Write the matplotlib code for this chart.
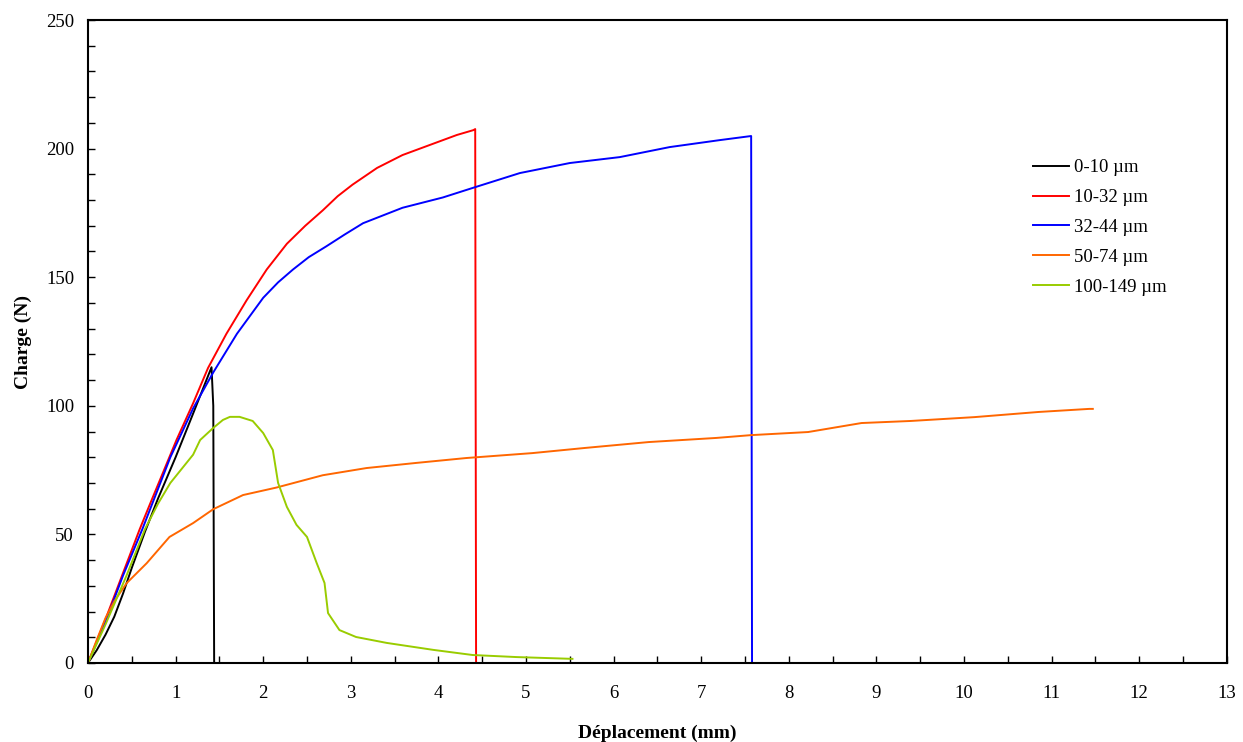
import numpy as np
import matplotlib.pyplot as plt
from matplotlib.ticker import MultipleLocator

plt.rcParams['font.family'] = ['Liberation Serif', 'DejaVu Serif']

# 0-10 um
x_0_10 = [0, 0.10, 0.20, 0.30, 0.40, 0.50, 0.65, 0.80, 1.00, 1.20, 1.41, 1.43, 1.44]
y_0_10 = [0, 5, 11, 18, 27, 37, 51, 64, 80, 97, 115, 100, 0]

# 10-32 um
x_10_32 = [0, 0.20, 0.40, 0.59, 0.71, 1.01, 1.20, 1.37, 1.58, 1.81, 2.04, 2.27,
           2.48, 2.68, 2.85, 3.02, 3.30, 3.59, 3.90, 4.21, 4.40, 4.42, 4.43]
y_10_32 = [0, 17, 35, 52, 62, 86.7, 101, 114.7, 128, 141, 153, 163,
           170, 176, 181.5, 186, 192.5, 197.5, 201.4, 205.3, 207.2, 207.6, 0]

# 32-44 um
x_32_44 = [0, 0.20, 0.40, 0.62, 0.94, 1.20, 1.43, 1.70, 2.00, 2.17, 2.34, 2.52,
           2.72, 2.93, 3.14, 3.59, 4.05, 4.39, 4.93, 5.50, 6.07, 6.64, 7.21,
           7.57, 7.58]
y_32_44 = [0, 16, 34, 52, 80, 99, 113, 128, 142, 148, 153, 157.8,
           162, 166.6, 171, 177, 181, 184.7, 190.5, 194.4, 196.7, 200.6, 203.3,
           204.9, 0]

# 50-74 um
x_50_74 = [0, 0.10, 0.20, 0.30, 0.44, 0.67, 0.93, 1.20, 1.43, 1.77, 2.15, 2.68,
           3.18, 3.75, 4.32, 5.07, 5.67, 6.40, 7.17, 7.57, 8.22, 8.83, 9.39,
           10.12, 10.85, 11.43, 11.47]
y_50_74 = [0, 9, 17.5, 24, 31, 38.8, 49, 54.4, 59.8, 65.3, 68.2, 73,
           75.8, 77.8, 79.7, 81.6, 83.6, 85.9, 87.5, 88.6, 89.8, 93.3, 94.1,
           95.6, 97.6, 98.8, 98.8]

# 100-149 um
x_100_149 = [0, 0.20, 0.44, 0.65, 0.80, 0.94, 1.07, 1.20, 1.28, 1.43, 1.54, 1.62,
             1.73, 1.88, 2.00, 2.11, 2.17, 2.27, 2.38, 2.50, 2.61, 2.70, 2.74,
             2.87, 3.06, 3.41, 3.94, 4.39, 4.89, 5.53]
y_100_149 = [0, 15, 34, 52, 62, 70, 75.5, 81, 86.7, 91.4, 94.5, 95.7,
             95.7, 94.1, 89.4, 82.8, 70, 60.7, 53.7, 49, 38.9, 31.1, 19.4,
             12.8, 10.1, 7.8, 5.1, 3.1, 2.3, 1.6]

series = [
    (x_0_10, y_0_10, '0-10 µm', '#000000'),
    (x_10_32, y_10_32, '10-32 µm', '#FF0000'),
    (x_32_44, y_32_44, '32-44 µm', '#0000FF'),
    (x_50_74, y_50_74, '50-74 µm', '#FF6600'),
    (x_100_149, y_100_149, '100-149 µm', '#99CC00'),
]

fig = plt.figure(figsize=(12.43, 7.42), dpi=100)
ax = fig.add_axes([0.0708, 0.1065, 0.9162, 0.8665])

for x, y, lab, col in series:
    ax.plot(x, y, color=col, linewidth=1.4, label=lab)

ax.set_xlim(0, 13)
ax.set_ylim(0, 250)
ax.xaxis.set_major_locator(MultipleLocator(1))
ax.xaxis.set_minor_locator(MultipleLocator(0.5))
ax.yaxis.set_major_locator(MultipleLocator(50))
ax.yaxis.set_minor_locator(MultipleLocator(10))
ax.tick_params(which='both', direction='in', length=5, width=1, labelsize=13.5,
               top=False, right=False)
ax.tick_params(axis='x', pad=16)
ax.tick_params(axis='y', pad=10)
for s in ax.spines.values():
    s.set_linewidth(1.5)

ax.set_xlabel('Déplacement (mm)', fontsize=14, fontweight='bold', labelpad=16)
ax.set_ylabel('Charge (N)', fontsize=14, fontweight='bold', labelpad=10)

ax.legend(loc='upper left', bbox_to_anchor=(0.815, 0.81), frameon=False,
          fontsize=13.5, handlelength=1.9, labelspacing=0.68, handletextpad=0.3)

fig.savefig('out.png', dpi=100)
